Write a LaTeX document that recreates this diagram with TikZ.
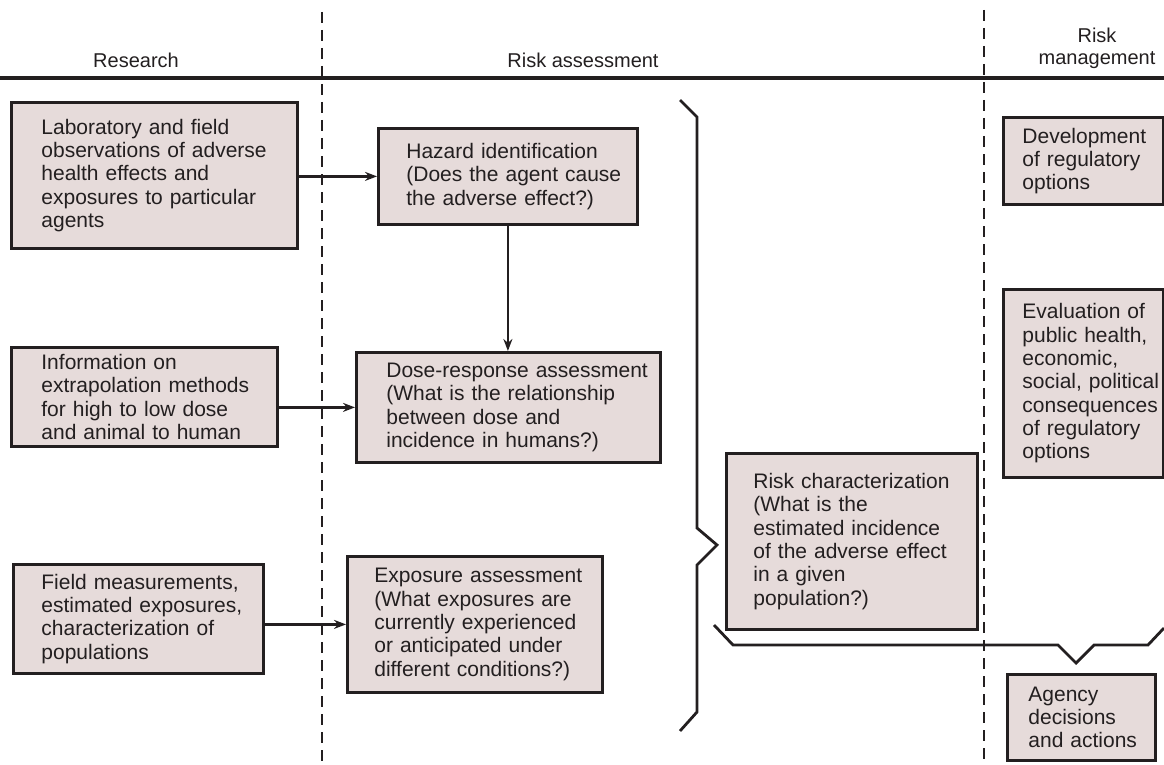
\documentclass[tikz,border=0pt]{standalone}
\usepackage{fontspec}
\setmainfont{Liberation Sans}
\usetikzlibrary{arrows.meta}
\definecolor{boxfill}{RGB}{230,219,218}
\definecolor{ink}{RGB}{35,31,32}
\newcommand{\oneln}[1]{\mbox{#1}}
\begin{document}
\begin{tikzpicture}[x=1pt,y=-1pt,
  box/.style={draw=ink, fill=boxfill, line width=2.8pt, anchor=north west, align=left,
    font=\fontsize{21}{23.3}\selectfont, text=ink, inner ysep=0pt},
  hdr/.style={font=\fontsize{20}{22}\selectfont, text=ink, align=center, inner sep=0pt},
  arr/.style={draw=ink, line width=2.4pt, -{Stealth[length=12pt,width=9pt]}},
  brace/.style={draw=ink, line width=2.8pt, line join=miter},
  divider/.style={draw=ink, line width=2.5pt, dash pattern=on 11pt off 7pt}
]
\useasboundingbox (0,0) rectangle (1164,765);

% headers and rules
\draw[draw=ink, line width=3.2pt] (0,78) -- (1164,78);
\draw[divider] (322,12) -- (322,765);
\draw[divider] (984,10) -- (984,765);
\node[hdr] (hres) at (136,60) {Research};
\node[hdr] (hra) at (583,60) {Risk assessment};
\node[hdr] (hrm) at (1097,48) {Risk\\management};

% research boxes
\node[box, text width=226pt, inner xsep=30pt, minimum height=146pt] (lab) at (10,101)
 {\oneln{Laboratory and field}\\\oneln{observations of adverse}\\\oneln{health effects and}\\\oneln{exposures to particular}\\\oneln{agents}};
\node[box, text width=206pt, inner xsep=30pt, minimum height=99pt] (info) at (10,346)
 {\oneln{Information on}\\\oneln{extrapolation methods}\\\oneln{for high to low dose}\\\oneln{and animal to human}};
\node[box, text width=194pt, inner xsep=28pt, minimum height=109pt] (field) at (12,563)
 {\oneln{Field measurements,}\\\oneln{estimated exposures,}\\\oneln{characterization of}\\\oneln{populations}};

% risk assessment boxes
\node[box, text width=203pt, inner xsep=28pt, minimum height=96pt] (hazard) at (377,127)
 {\oneln{Hazard identification}\\\oneln{(Does the agent cause}\\\oneln{the adverse effect?)}};
\node[box, text width=244pt, inner xsep=30pt, minimum height=110pt] (dose) at (355,351)
 {\oneln{Dose-response assessment}\\\oneln{(What is the relationship}\\\oneln{between dose and}\\\oneln{incidence in humans?)}};
\node[box, text width=201pt, inner xsep=27pt, minimum height=136pt] (exp) at (346,555)
 {\oneln{Exposure assessment}\\\oneln{(What exposures are}\\\oneln{currently experienced}\\\oneln{or anticipated under}\\\oneln{different conditions?)}};
\node[box, text width=197pt, inner xsep=27pt, minimum height=176pt] (risk) at (725,452)
 {\oneln{Risk characterization}\\\oneln{(What is the}\\\oneln{estimated incidence}\\\oneln{of the adverse effect}\\\oneln{in a given}\\\oneln{population?)}};

% risk management boxes
\node[box, text width=122pt, inner xsep=19pt, minimum height=87pt] (dev) at (1002,116)
 {\oneln{Development}\\\oneln{of regulatory}\\\oneln{options}};
\node[box, text width=122pt, inner xsep=19pt, minimum height=188pt] (eval) at (1002,288)
 {\oneln{Evaluation of}\\\oneln{public health,}\\\oneln{economic,}\\\oneln{social, political}\\\oneln{consequences}\\\oneln{of regulatory}\\\oneln{options}};
\node[box, text width=106pt, inner xsep=21pt, minimum height=86pt] (agency) at (1006,673)
 {\oneln{Agency}\\\oneln{decisions}\\\oneln{and actions}};

% braces
\draw[brace] (680,100) -- (697,117) -- (697,528) -- (717,545) -- (697,565) -- (697,712) -- (680,731);
\draw[brace] (714,625) -- (733,645) -- (1058,645) -- (1076,663) -- (1094,645) -- (1148,645) -- (1164,628);

% arrows
\draw[arr] (lab.east |- hazard.west) -- (hazard.west);
\draw[arr] (hazard.south) -- (hazard.south |- dose.north);
\draw[arr] (info.east |- dose.west) -- (dose.west);
\draw[arr] (field.east |- exp.west) -- (exp.west);
\end{tikzpicture}
\end{document}
